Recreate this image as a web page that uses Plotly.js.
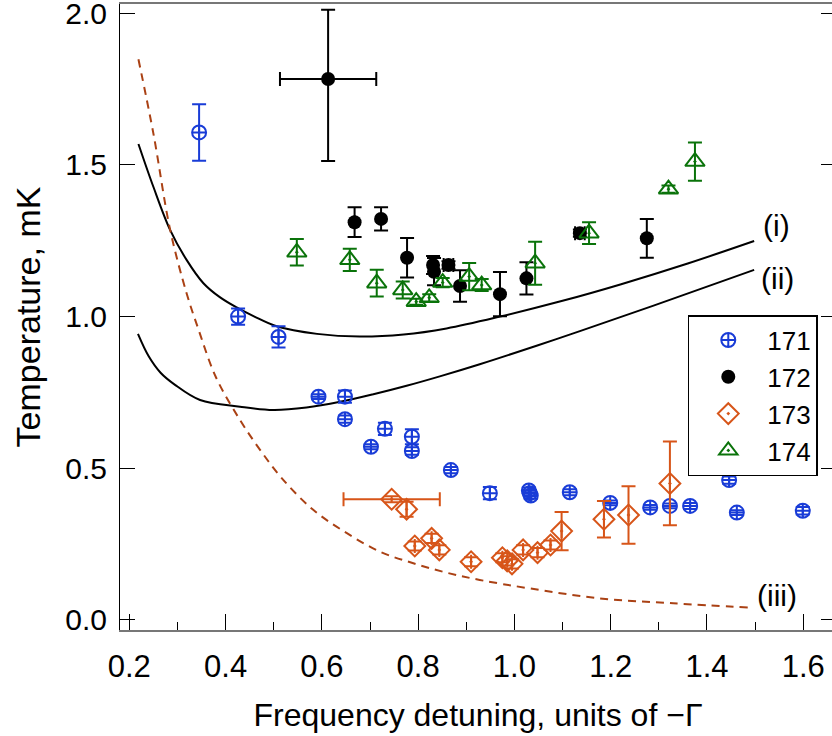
<!DOCTYPE html>
<html><head><meta charset="utf-8">
<script src="https://cdn.plot.ly/plotly-3.0.1.min.js"></script>
<style>html,body{margin:0;padding:0;overflow:hidden;background:#fff}</style>
</head><body><div id="chart" style="width:840px;height:736px"></div>
<script>
// ---- Data ----
const x171 = [0.345,0.426,0.510,0.593,0.648,0.648,0.702,0.731,0.787,0.787,0.868,0.949,1.030,1.032,1.034,1.115,1.199,1.282,1.323,1.365,1.446,1.462,1.599];
const T171 = [1.607,1.000,0.933,0.736,0.736,0.662,0.571,0.630,0.604,0.557,0.494,0.418,0.427,0.418,0.410,0.421,0.386,0.371,0.376,0.376,0.461,0.354,0.360];
const e171 = [0.093,0.027,0.035,0.008,0.020,0.012,0.008,0.020,0.025,0.012,0.010,0.020,0.010,0.010,0.010,0.010,0.008,0.008,0.008,0.010,0.012,0.008,0.012];

const x172 = [0.613,0.668,0.723,0.777,0.831,0.833,0.863,0.887,0.970,1.025,1.136,1.275];
const T172 = [1.783,1.311,1.322,1.194,1.170,1.148,1.170,1.101,1.074,1.126,1.275,1.258];
const e172p = [0.228,0.049,0.038,0.065,0.030,0.045,0.012,0.052,0.073,0.053,0.012,0.064];
const e172m = [0.270,0.049,0.038,0.065,0.030,0.045,0.012,0.052,0.073,0.053,0.012,0.064];
const xe172 = [0.100,0,0,0,0,0,0.010,0,0,0,0.010,0];

const x173 = [0.745,0.776,0.793,0.828,0.844,0.910,0.975,0.985,0.995,1.018,1.048,1.075,1.098,1.186,1.237,1.323];
const T173 = [0.398,0.365,0.244,0.269,0.231,0.192,0.205,0.195,0.185,0.231,0.222,0.247,0.293,0.332,0.346,0.450];
const e173 = [0.010,0.025,0.015,0.015,0.015,0.015,0.015,0.015,0.015,0.015,0.015,0.015,0.063,0.060,0.095,0.138];
const xe173 = [0.100,0,0,0,0,0,0,0,0,0,0,0,0,0,0,0];

const x174 = [0.548,0.658,0.714,0.768,0.796,0.823,0.851,0.906,0.932,1.043,1.155,1.320,1.375];
const T174 = [1.212,1.187,1.110,1.088,1.049,1.062,1.112,1.132,1.104,1.176,1.275,1.420,1.511];
const e174 = [0.044,0.037,0.044,0.028,0.010,0.012,0.015,0.045,0.020,0.071,0.036,0.012,0.063];

// theory curves
const xCurveI  = [0.219,0.250,0.285,0.319,0.354,0.388,0.423,0.460,0.506,0.590,0.679,0.770,0.859,0.970,1.100,1.220,1.360,1.498];
const TCurveI  = [1.569,1.428,1.285,1.187,1.110,1.064,1.030,1.000,0.968,0.943,0.934,0.941,0.961,1.000,1.052,1.106,1.175,1.249];
const xCurveII = [0.218,0.240,0.265,0.295,0.347,0.430,0.499,0.568,0.638,0.707,0.776,0.845,0.928,1.046,1.136,1.289,1.498];
const TCurveII = [0.943,0.870,0.815,0.775,0.725,0.703,0.692,0.700,0.719,0.744,0.772,0.803,0.843,0.904,0.952,1.036,1.154];
const xCurveIII = [0.219,0.250,0.285,0.319,0.343,0.380,0.430,0.472,0.517,0.582,0.652,0.721,0.790,0.859,0.928,1.032,1.178,1.330,1.489];
const TCurveIII = [1.848,1.604,1.285,1.077,0.961,0.800,0.659,0.560,0.467,0.363,0.286,0.225,0.187,0.156,0.132,0.104,0.071,0.055,0.041];

const curveLabels = ['(i)','(ii)','(iii)'];
const curveLabelX = [1.545,1.547,1.545];
const curveLabelT = [1.299,1.124,0.082];

const xTicks = [0.2,0.4,0.6,0.8,1.0,1.2,1.4,1.6];
const yTicks = [0.0,0.5,1.0,1.5,2.0];

// ---- Styles ----
const BLUE = 'rgb(25,60,215)';
const BLACK = '#000';
const ORANGE = 'rgb(215,85,25)';
const GREEN = 'rgb(10,115,10)';
const DASH = 'rgb(170,65,20)';
const FONT = 'Liberation Sans, Arial, Helvetica, sans-serif';

const traces = [
  {x:xCurveI, y:TCurveI, mode:'lines', line:{color:BLACK,width:2,shape:'spline'}, showlegend:false, hoverinfo:'skip'},
  {x:xCurveII, y:TCurveII, mode:'lines', line:{color:BLACK,width:2,shape:'spline'}, showlegend:false, hoverinfo:'skip'},
  {x:xCurveIII, y:TCurveIII, mode:'lines', line:{color:DASH,width:2,shape:'spline',dash:'8px,6px'}, showlegend:false, hoverinfo:'skip'},
  {name:'171', x:x171, y:T171, mode:'markers', type:'scatter',
   marker:{symbol:'circle-cross-open', size:14, color:BLUE, line:{width:2,color:BLUE}},
   error_y:{type:'data', array:e171, visible:true, color:BLUE, thickness:2, width:7}},
  {name:'172', x:x172, y:T172, mode:'markers', type:'scatter',
   marker:{symbol:'circle', size:14, color:BLACK},
   error_y:{type:'data', array:e172p, arrayminus:e172m, symmetric:false, visible:true, color:BLACK, thickness:2, width:7},
   error_x:{type:'data', array:xe172, visible:true, color:BLACK, thickness:2, width:7}},
  {name:'173', x:x173, y:T173, mode:'markers', type:'scatter',
   marker:{symbol:'diamond-open-dot', size:16, color:ORANGE, line:{width:2,color:ORANGE}},
   error_y:{type:'data', array:e173, visible:true, color:ORANGE, thickness:2, width:7},
   error_x:{type:'data', array:xe173, visible:true, color:ORANGE, thickness:2, width:7}},
  {name:'174', x:x174, y:T174, mode:'markers', type:'scatter',
   marker:{symbol:'triangle-up-open-dot', size:17, color:GREEN, line:{width:2,color:GREEN}},
   error_y:{type:'data', array:e174, visible:true, color:GREEN, thickness:2, width:7}}
];

const annotations = curveLabels.map((t,i)=>({
  x:curveLabelX[i], y:curveLabelT[i], xref:'x', yref:'y', text:t, showarrow:false,
  font:{family:FONT,size:30,color:'#000'}, xanchor:'center', yanchor:'middle'
}));

const layout = {
  width:840, height:736,
  margin:{l:120, r:4, t:4, b:106},
  paper_bgcolor:'#fff', plot_bgcolor:'#fff',
  font:{family:FONT, color:'#000'},
  showlegend:true,
  legend:{x:0.793, y:0.503, xanchor:'left', yanchor:'top', bgcolor:'#fff',
          bordercolor:'#000', borderwidth:1.5, font:{family:FONT,size:26,color:'#000'},
          itemwidth:68, tracegroupgap:0},
  xaxis:{range:[0.1807,1.668], tickvals:xTicks, ticktext:xTicks.map(v=>v.toFixed(1)),
         ticks:'inside', ticklen:16, tickwidth:1, tickcolor:'#000',
         minor:{dtick:0.1, tick0:0.2, ticks:'inside', ticklen:8, tickwidth:1, tickcolor:'#000'},
         showline:true, linecolor:'#777', linewidth:2, mirror:true,
         showgrid:false, zeroline:false, ticklabelstandoff:8, ticklabeloverflow:'allow',
         tickfont:{family:FONT,size:31,color:'#000'},
         title:{text:'Frequency detuning, units of \u2212\u0393', font:{family:FONT,size:32,color:'#000'}, standoff:20}},
  yaxis:{range:[-0.033,2.0303], tickvals:yTicks, ticktext:yTicks.map(v=>v.toFixed(1)),
         ticks:'inside', ticklen:15, tickwidth:1, tickcolor:'#000',
         showline:true, linecolor:'#000', linewidth:1, mirror:'ticks',
         showgrid:false, zeroline:false, ticklabelstandoff:6, ticklabeloverflow:'allow',
         tickfont:{family:FONT,size:30,color:'#000'},
         title:{text:'Temperature, mK', font:{family:FONT,size:34,color:'#000'}, standoff:14}},
  annotations:annotations
};

Plotly.newPlot('chart', traces, layout, {displayModeBar:false, staticPlot:true});
</script></body></html>
